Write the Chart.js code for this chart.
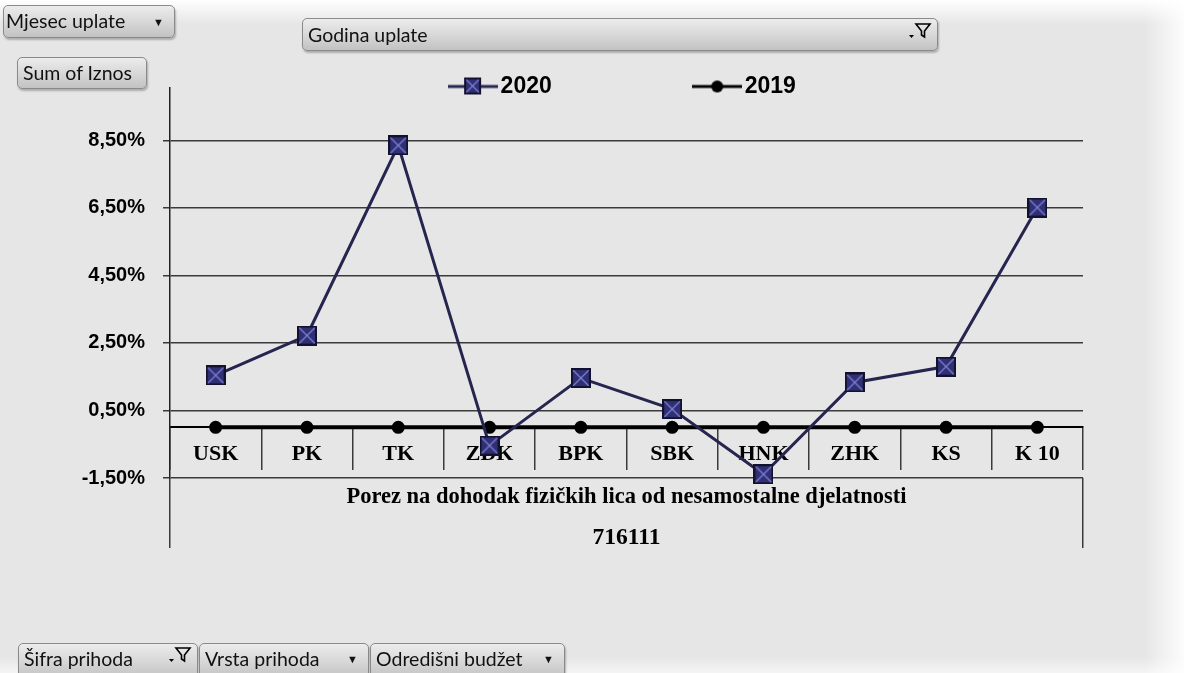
<!DOCTYPE html>
<html>
<head>
<meta charset="utf-8">
<script src="https://cdn.jsdelivr.net/npm/chart.js@4"></script>
<style>
html, body { margin: 0; padding: 0; width: 1184px; height: 673px; overflow: hidden; background: #e6e6e6; }
.fade-top { position: absolute; left: 0; top: 0; width: 1184px; height: 24px; background: linear-gradient(to bottom, #ffffff, rgba(230,230,230,0)); }
.fade-right { position: absolute; right: 0; top: 0; width: 40px; height: 673px; background: linear-gradient(to left, rgba(255,255,255,0.9), rgba(230,230,230,0)); }
.fade-bottom { position: absolute; left: 0; bottom: 0; width: 1184px; height: 16px; background: linear-gradient(to top, rgba(255,255,255,0.6), rgba(230,230,230,0)); }
canvas { position: absolute; left: 0; top: 0; }
.btn {
  position: absolute; box-sizing: border-box;
  font-family: Lato, "Liberation Sans", sans-serif; font-size: 19.5px; color: #111;
  border: 1px solid #8a8a8a; border-radius: 5px;
  background: linear-gradient(to bottom, #ececec, #d6d6d6 55%, #c2c2c2);
  box-shadow: 1px 2px 2px rgba(0,0,0,0.25);
  padding-left: 5px; white-space: nowrap;
}
.btn .arr { position: absolute; right: 10px; font-size: 11px; }
.btn svg { position: absolute; right: 5px; }
</style>
</head>
<body>
<div class="fade-top"></div>
<div class="fade-right"></div>
<div class="fade-bottom"></div>
<canvas id="chart" width="1184" height="673"></canvas>

<div class="btn" style="left:3px;top:5px;width:172px;height:33px;line-height:30px;padding-left:2px;">Mjesec uplate<span class="arr" style="top:1px;">&#9660;</span></div>
<div class="btn" style="left:17px;top:57px;width:130px;height:32px;line-height:30px;">Sum of Iznos</div>
<div class="btn" style="left:302px;top:18px;width:636px;height:33px;line-height:32px;">Godina uplate
  <svg width="26" height="22" viewBox="0 0 26 22" style="top:3px;"><polygon points="3,13 8,13 5.5,16" fill="#000"/><path d="M10 2 H24 L18.5 9 V15 L15.5 13 V9 Z" fill="none" stroke="#000" stroke-width="1.6"/></svg>
</div>
<div class="btn" style="left:18px;top:643px;width:180px;height:36px;line-height:30px;border-radius:5px 5px 0 0;">Šifra prihoda
  <svg width="26" height="22" viewBox="0 0 26 22" style="top:2px;"><polygon points="3,13 8,13 5.5,16" fill="#000"/><path d="M10 2 H24 L18.5 9 V15 L15.5 13 V9 Z" fill="none" stroke="#000" stroke-width="1.6"/></svg>
</div>
<div class="btn" style="left:199px;top:643px;width:170px;height:36px;line-height:30px;border-radius:5px 5px 0 0;">Vrsta prihoda<span class="arr">&#9660;</span></div>
<div class="btn" style="left:370px;top:643px;width:195px;height:36px;line-height:30px;border-radius:5px 5px 0 0;">Odredišni budžet<span class="arr">&#9660;</span></div>

<script>
const categories = ['USK', 'PK', 'TK', 'ZDK', 'BPK', 'SBK', 'HNK', 'ZHK', 'KS', 'K 10'];
const groupLabels = ['Porez na dohodak fizičkih lica od nesamostalne djelatnosti'];
const codeLabels = ['716111'];
const values2020 = [1.54, 2.72, 8.35, -0.54, 1.46, 0.54, -1.39, 1.33, 1.80, 6.51];
const values2019 = [0, 0, 0, 0, 0, 0, 0, 0, 0, 0];
const yTicks = [-1.5, 0.5, 2.5, 4.5, 6.5, 8.5];
const yMin = -1.5;
const yMax = 10.05;

// square marker with an X, like the Excel one
function squareMarker(size) {
    const c = document.createElement('canvas');
    c.width = size;
    c.height = size;
    const g = c.getContext('2d');
    g.fillStyle = '#2f2f74';
    g.fillRect(0, 0, size, size);
    g.strokeStyle = '#8080d8';
    g.lineWidth = 1.2;
    g.beginPath();
    g.moveTo(2, 2); g.lineTo(size - 2, size - 2);
    g.moveTo(size - 2, 2); g.lineTo(2, size - 2);
    g.stroke();
    g.strokeStyle = '#12122e';
    g.lineWidth = 2;
    g.strokeRect(1, 1, size - 2, size - 2);
    return c;
}

function legendSample(kind) {
    const c = document.createElement('canvas');
    c.width = 50;
    c.height = 22;
    const g = c.getContext('2d');
    g.strokeStyle = kind === 'square' ? '#25254f' : '#000';
    g.lineWidth = 3;
    g.beginPath();
    g.moveTo(0, 11); g.lineTo(50, 11);
    g.stroke();
    if (kind === 'square') {
        g.drawImage(squareMarker(17), 16, 2);
    } else {
        g.fillStyle = '#000';
        g.beginPath();
        g.arc(25, 11, 6, 0, Math.PI * 2);
        g.fill();
    }
    return c;
}

// legend sits half over the plot top, so don't clip it to its box
const unclipLegend = {
    id: 'unclipLegend',
    afterInit(chart) {
        chart.legend.draw = function () {
            if (this.options.display) this._draw();
        };
    }
};

const boldSans = {family: 'Liberation Sans', size: 20, weight: 'bold'};
const boldSerif = {family: 'Liberation Serif', size: 22, weight: 'bold'};

new Chart(document.getElementById('chart'), {
    type: 'line',
    data: {
        labels: categories,
        datasets: [{
            label: '2020',
            data: values2020,
            borderColor: '#25254f',
            borderWidth: 3,
            pointStyle: squareMarker(20),
            pointRadius: 10,
            tension: 0,
            clip: false
        }, {
            label: '2019',
            data: values2019,
            borderColor: '#000',
            backgroundColor: '#000',
            borderWidth: 4,
            pointStyle: 'circle',
            pointRadius: 6.5,
            pointBorderWidth: 0,
            tension: 0,
            clip: false
        }]
    },
    plugins: [unclipLegend],
    options: {
        responsive: false,
        animation: false,
        devicePixelRatio: 1,
        layout: {padding: {left: 0, right: 101, top: 75, bottom: 119}},
        plugins: {
            tooltip: {enabled: false},
            legend: {
                position: 'top',
                fullSize: false,
                maxHeight: 13,
                labels: {
                    usePointStyle: true,
                    pointStyleWidth: 32,
                    padding: 0,
                    color: '#000',
                    font: {family: 'Liberation Sans', size: 23, weight: 'bold'},
                    generateLabels: chart => [
                        {text: '2020\u2003\u2003\u2003\u2003\u2003\u2003\u2002', pointStyle: legendSample('square'), datasetIndex: 0, fontColor: '#000', lineWidth: 0},
                        {text: '2019', pointStyle: legendSample('circle'), datasetIndex: 1, fontColor: '#000', lineWidth: 0}
                    ]
                }
            }
        },
        scales: {
            x: {
                type: 'category',
                position: {y: 0},
                offset: true,
                grid: {offset: true, drawOnChartArea: false, tickLength: 42, color: '#3a3a3a', lineWidth: 1.5},
                border: {color: '#000', width: 2},
                ticks: {font: boldSerif, color: '#000', padding: -28, autoSkip: false, maxRotation: 0}
            },
            y: {
                min: yMin,
                max: yMax,
                afterBuildTicks: scale => { scale.ticks = yTicks.map(v => ({value: v})); },
                afterFit: scale => { scale.width = 170; },
                grid: {color: '#3a3a3a', lineWidth: 1.5, tickLength: 7},
                border: {color: '#222', width: 1.5},
                ticks: {
                    padding: 18,
                    color: '#000',
                    font: boldSans,
                    callback: v => v.toFixed(2).replace('.', ',') + '%'
                }
            },
            x2: {
                type: 'category',
                position: 'bottom',
                labels: groupLabels,
                offset: true,
                weight: 1,
                grid: {offset: true, drawOnChartArea: false, tickLength: 70, color: '#3a3a3a', lineWidth: 1.5},
                border: {display: false},
                afterFit: scale => { scale.height = 38; },
                ticks: {font: {family: 'Liberation Serif', size: 22.5, weight: 'bold'}, color: '#000', padding: -64, maxRotation: 0}
            },
            x3: {
                type: 'category',
                position: 'bottom',
                labels: codeLabels,
                offset: true,
                weight: 2,
                grid: {display: false, drawTicks: false},
                border: {display: false},
                afterFit: scale => { scale.height = 38; },
                ticks: {font: {family: 'Liberation Serif', size: 23.5, weight: 'bold'}, color: '#000', padding: 8, maxRotation: 0}
            }
        }
    }
});
</script>
</body>
</html>
